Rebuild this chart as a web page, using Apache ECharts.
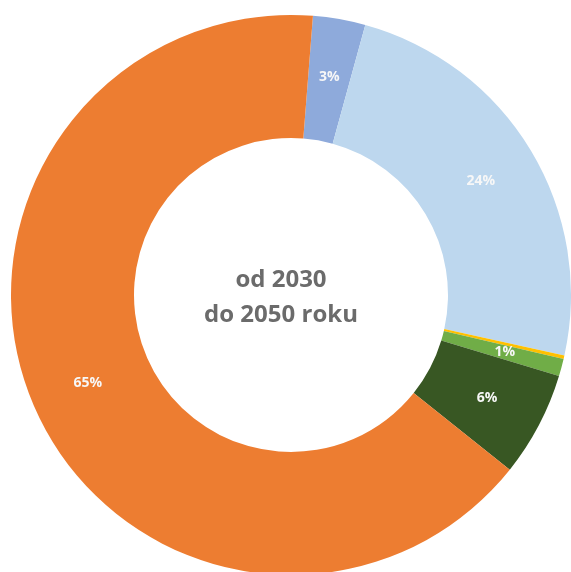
<!DOCTYPE html>
<html>
<head>
<meta charset="utf-8">
<script src="https://cdn.jsdelivr.net/npm/echarts@6/dist/echarts.min.js"></script>
<style>
  html, body { margin: 0; padding: 0; background: #ffffff; }
  #chart { width: 571px; height: 572px; }
</style>
</head>
<body>
<div id="chart"></div>
<script>
// Share of each source, in percent (clockwise from the top)
const categories = ['Źródło A', 'Źródło B', 'Źródło C', 'Źródło D', 'Źródło E', 'Źródło F'];
const shares = [3, 24, 0.2, 1, 6, 65];
const showLabel = [true, true, false, true, true, true];
const sliceColors = ['#8eaadb', '#bdd7ee', '#ffc000', '#70ad47', '#385723', '#ed7d31'];
const centerLines = ['od 2030', 'do 2050 roku'];

const chart = echarts.init(document.getElementById('chart'), null, { renderer: 'canvas' });

const data = categories.map((name, i) => ({
  name,
  value: shares[i],
  itemStyle: { color: sliceColors[i] },
  label: { show: showLabel[i] }
}));

chart.setOption({
  animation: false,
  backgroundColor: '#ffffff',
  series: [{
    type: 'pie',
    center: [291, 295],
    radius: [157, 280],
    startAngle: 85.5,
    clockwise: true,
    avoidLabelOverlap: false,
    label: {
      position: 'inside',
      color: '#f7f7f7',
      fontSize: 14,
      fontWeight: 'bold',
      fontFamily: 'Open Sans',
      formatter: p => p.value + '%'
    },
    labelLine: { show: false },
    itemStyle: { borderWidth: 0 },
    emphasis: { disabled: true },
    data
  }],
  graphic: [{
    type: 'text',
    left: 281 - 100,
    top: 263,
    style: {
      text: centerLines.join('\n'),
      width: 200,
      align: 'center',
      x: 100,
      fill: '#6b6b6b',
      font: 'bold 24px "Open Sans"',
      lineHeight: 35,
      textAlign: 'center'
    }
  }]
});
</script>
</body>
</html>
